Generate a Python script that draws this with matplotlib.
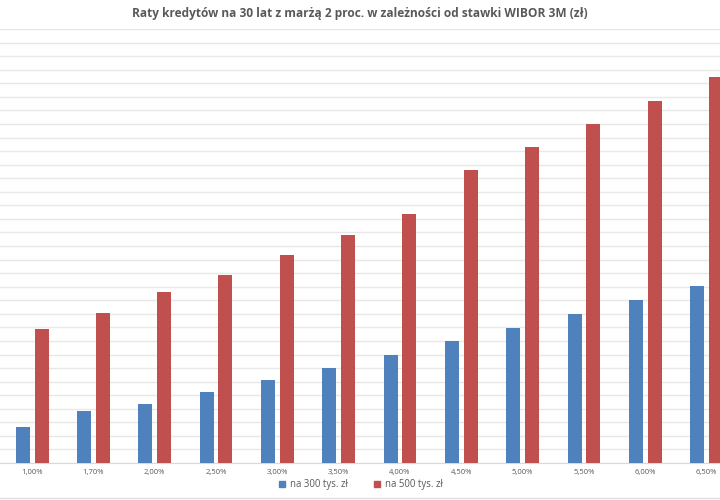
import matplotlib
matplotlib.use("Agg")
import matplotlib.pyplot as plt
from matplotlib.lines import Line2D
import numpy as np

categories = ["1,00%", "1,70%", "2,00%", "2,50%", "3,00%", "3,50%",
              "4,00%", "4,50%", "5,00%", "5,50%", "6,00%", "6,50%"]
rata_300 = [1265, 1381, 1432, 1520, 1610, 1703, 1799, 1896, 1996, 2098, 2201, 2307]
rata_500 = [1985, 2108, 2260, 2387, 2533, 2684, 2839, 3160, 3327, 3496, 3669, 3845]
series_names = ["na 300 tys. zł", "na 500 tys. zł"]
title = "Raty kredytów na 30 lat z marżą 2 proc. w zależności od stawki WIBOR 3M (zł)"

BLUE = "#4f81bd"
RED = "#c0504d"
TXT = "#595959"

plt.rcParams['font.family'] = ['Open Sans', 'DejaVu Sans']

fig = plt.figure(figsize=(7.2, 5), dpi=100)
ax = fig.add_axes([0, 37/500, 1, 434/500])

x = np.arange(len(categories))
w = 0.228
ax.bar(x - 0.15, rata_300, width=w, color=BLUE, label=series_names[0], zorder=3)
ax.bar(x + 0.155, rata_500, width=w, color=RED, label=series_names[1], zorder=3)

ax.set_xlim(-0.522, 11.22)
ax.set_ylim(1000, 4200)
ax.set_yticks(np.arange(1000, 4201, 100))
ax.yaxis.grid(True, color="#e8e8e8", linewidth=1, zorder=0)
ax.tick_params(axis='y', left=False, labelleft=False)
ax.set_xticks(x)
ax.set_xticklabels(categories, fontsize=5.5, color=TXT)
ax.tick_params(axis='x', length=0, pad=4)
for s in ["top", "left", "right"]:
    ax.spines[s].set_visible(False)
ax.spines["bottom"].set_color("#d9d9d9")

fig.text(0.5, 1 - 14/500, title, ha="center", va="center", fontsize=8.6,
         fontweight="bold", color=TXT)

handles = [Line2D([], [], marker='s', linestyle='none', markersize=5,
                  color=BLUE),
           Line2D([], [], marker='s', linestyle='none', markersize=5,
                  color=RED)]
fig.legend(handles, series_names, loc="center", bbox_to_anchor=(0.5, 1 - 485/500),
           ncol=2, frameon=False, fontsize=6.9, labelcolor=TXT,
           handletextpad=0.3, columnspacing=2.6, handlelength=1.0)

fig.add_artist(Line2D([0, 1], [1 - 498/500, 1 - 498/500], color="#e0e0e0",
                      linewidth=1, transform=fig.transFigure))

fig.savefig("out.png", dpi=100, facecolor="white")
